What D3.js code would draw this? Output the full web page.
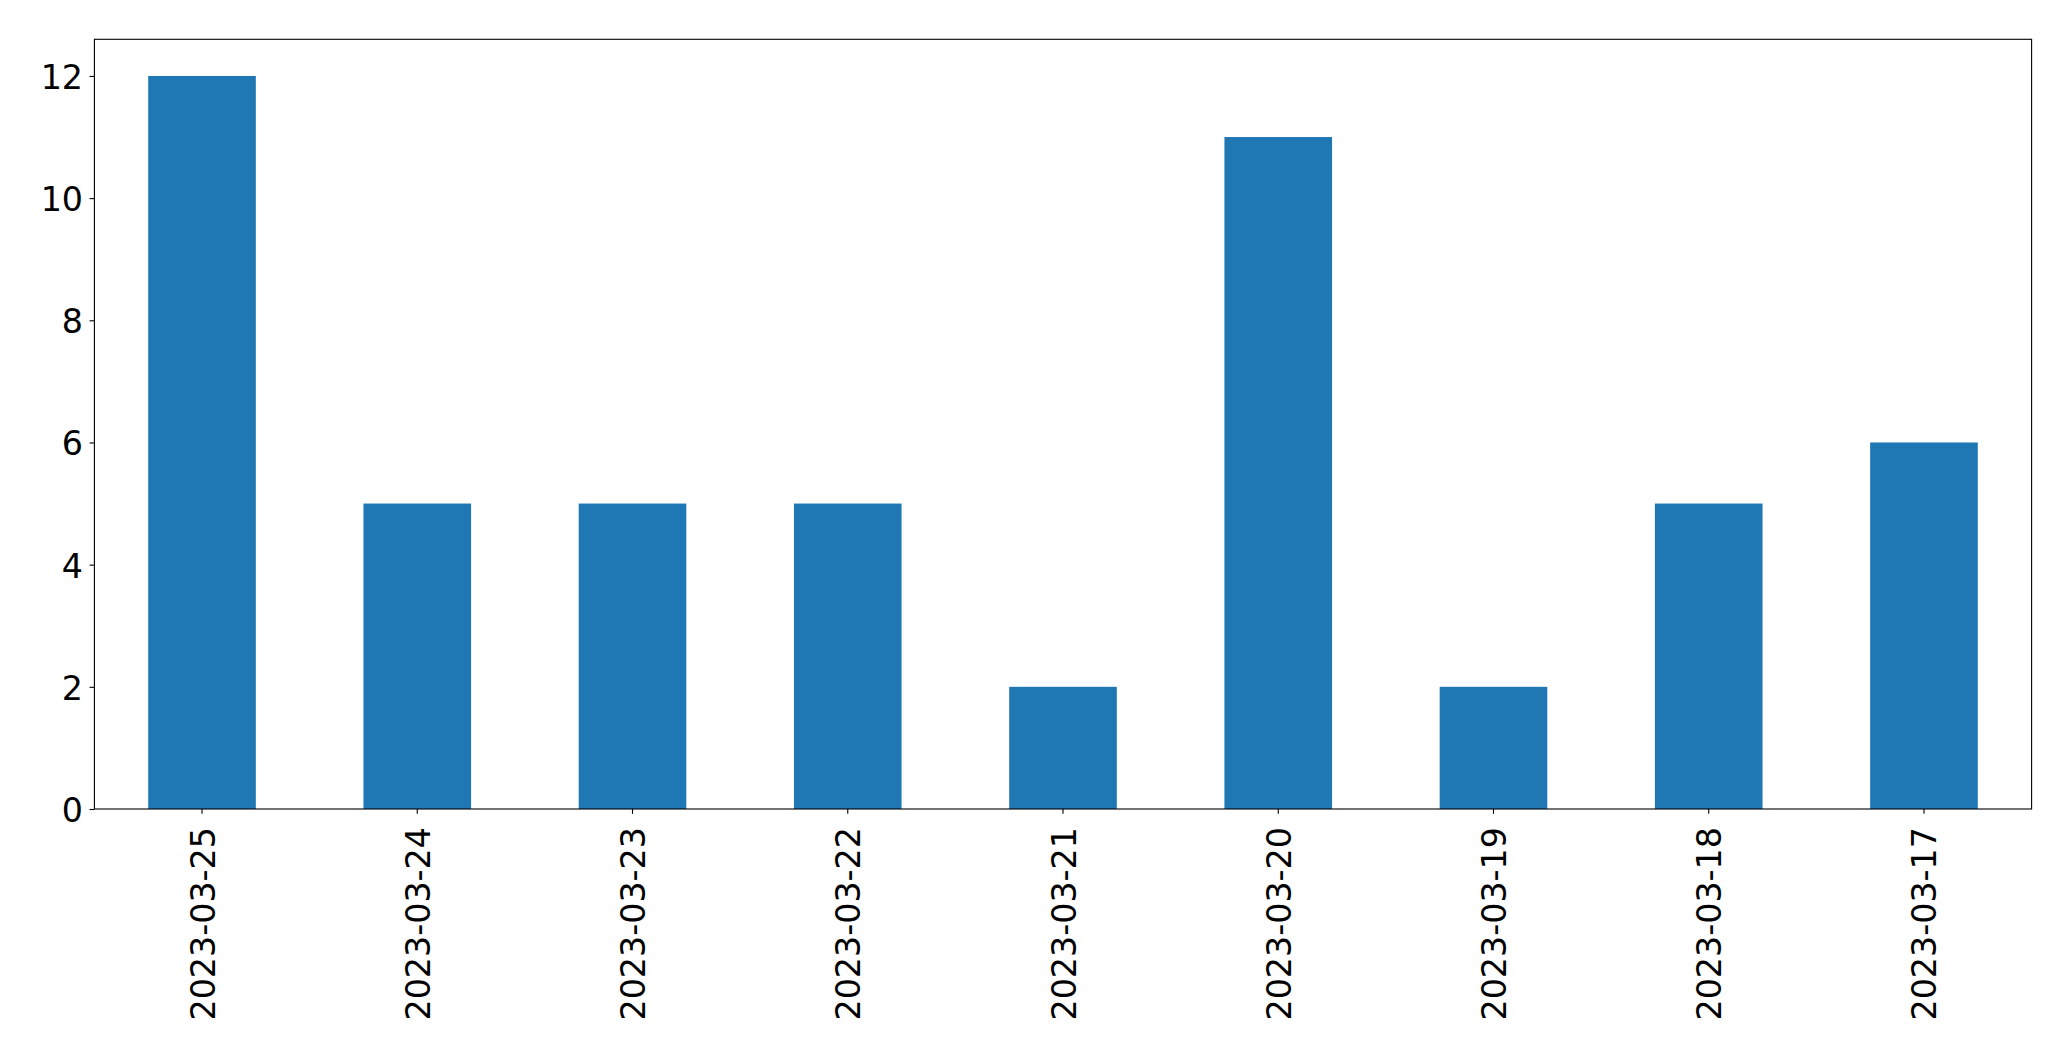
<!DOCTYPE html>
<html>
<head>
<meta charset="utf-8">
<script src="https://cdn.jsdelivr.net/npm/d3@7"></script>
<style>
  html, body { margin: 0; padding: 0; background: #fff; }
  svg { display: block; }
  text { font-family: "DejaVu Sans", sans-serif; fill: #000; }
</style>
</head>
<body>
<svg id="chart" width="2071" height="1061"></svg>
<script>
const categories = ["2023-03-25", "2023-03-24", "2023-03-23", "2023-03-22", "2023-03-21", "2023-03-20", "2023-03-19", "2023-03-18", "2023-03-17"];
const values = [12, 5, 5, 5, 2, 11, 2, 5, 6];
const yTicks = [0, 2, 4, 6, 8, 10, 12];

const W = 2071, H = 1061;
const m = { left: 94.4, right: 2031.6, top: 39.3, bottom: 809 };
const svg = d3.select("#chart");

const x = d3.scaleBand().domain(categories).range([m.left, m.right]).paddingInner(0.5).paddingOuter(0.25);
const y = d3.scaleLinear().domain([0, 12.6]).range([m.bottom, m.top]);

const fs = 33.3, tickLen = 4.86;

svg.append("g").selectAll("rect").data(values).join("rect")
  .attr("x", (d, i) => x(categories[i]))
  .attr("width", x.bandwidth())
  .attr("y", d => y(d))
  .attr("height", d => y(0) - y(d))
  .attr("fill", "#1f77b4");

// frame
svg.append("rect")
  .attr("x", m.left).attr("y", m.top)
  .attr("width", m.right - m.left).attr("height", m.bottom - m.top)
  .attr("fill", "none").attr("stroke", "#000").attr("stroke-width", 1.1);

// y axis
const yAxis = svg.append("g").attr("transform", `translate(${m.left},0)`)
  .call(d3.axisLeft(y).tickValues(yTicks).tickSize(tickLen).tickPadding(0).tickFormat(d3.format("d")));
yAxis.select(".domain").remove();
yAxis.selectAll(".tick line").attr("stroke", "#000").attr("stroke-width", 1.1);
yAxis.selectAll(".tick text")
  .attr("x", -(tickLen + 6.5))
  .attr("dy", null)
  .attr("y", 12.5)
  .style("font-size", fs + "px")
  .style("font-family", "'DejaVu Sans', sans-serif")
  .attr("text-anchor", "end");

// x axis
const xAxis = svg.append("g").attr("transform", `translate(0,${m.bottom})`)
  .call(d3.axisBottom(x).tickSize(tickLen).tickPadding(0));
xAxis.select(".domain").remove();
xAxis.selectAll(".tick line").attr("stroke", "#000").attr("stroke-width", 1.1);
xAxis.selectAll(".tick text")
  .attr("y", null).attr("dy", null)
  .attr("text-anchor", "end")
  .attr("transform", "translate(12.5,18) rotate(-90)")
  .style("font-size", fs + "px")
  .style("font-family", "'DejaVu Sans', sans-serif");
</script>
</body>
</html>
